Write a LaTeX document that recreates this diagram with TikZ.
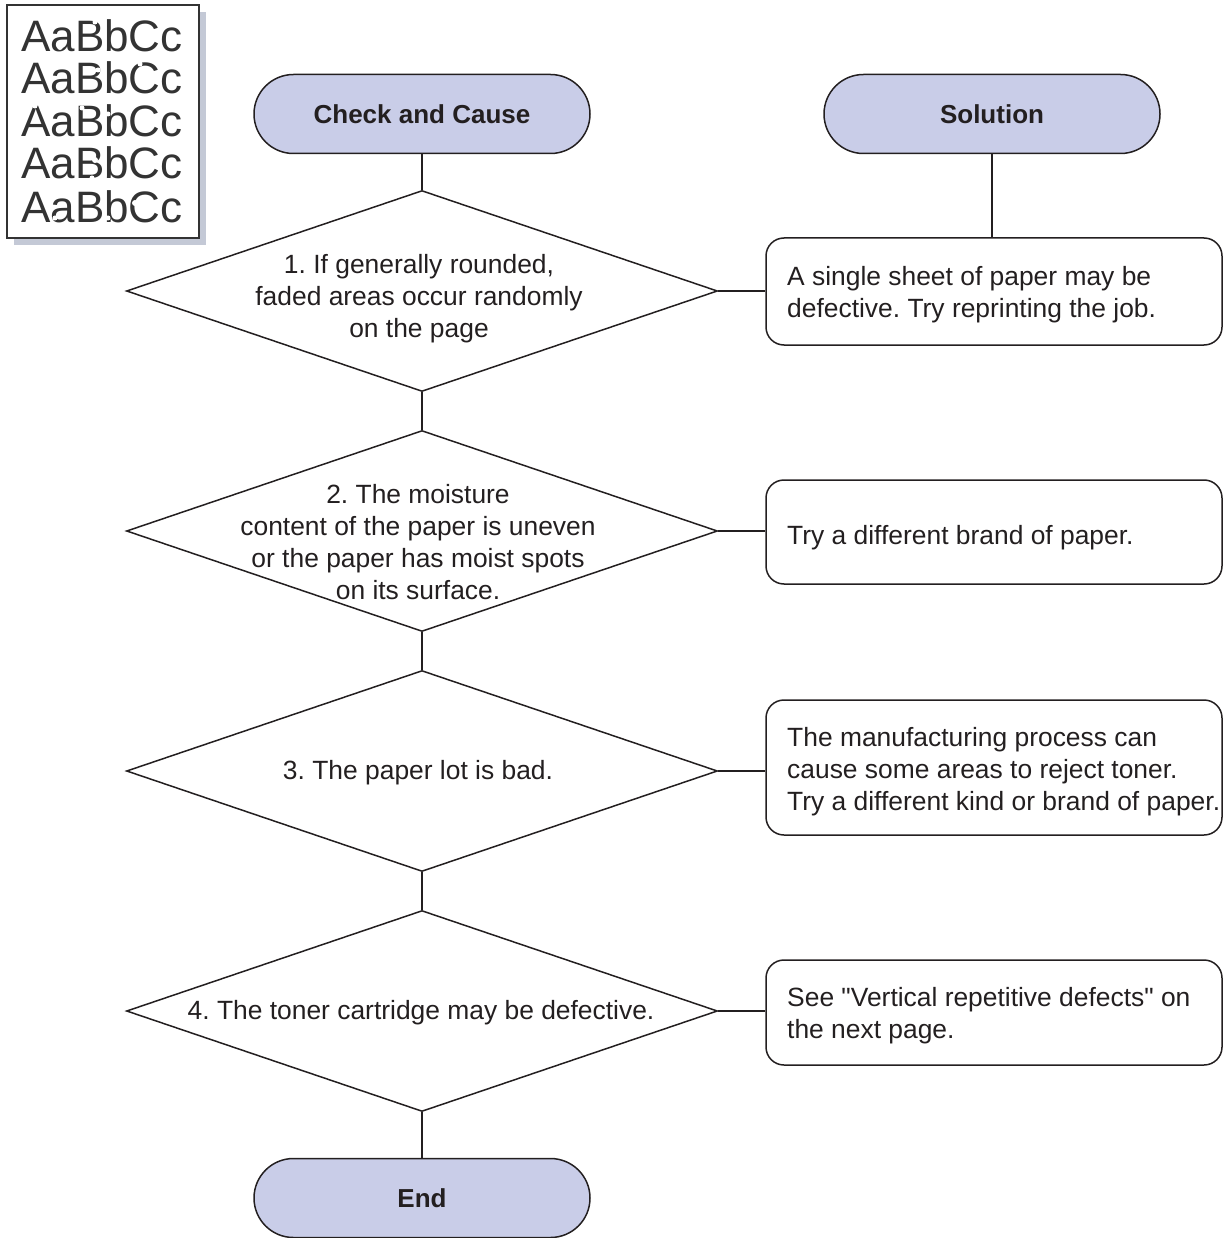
\documentclass[tikz,border=0pt]{standalone}
\usepackage{fontspec}
\setmainfont{Liberation Sans}[Ligatures=TeXOff]
\usetikzlibrary{shapes.geometric,shapes.misc}
\definecolor{termfill}{RGB}{201,205,232}
\definecolor{shadowc}{RGB}{196,201,214}
\definecolor{ink}{RGB}{35,31,32}
\definecolor{sampleink}{RGB}{51,51,51}
\tikzset{
  line/.style={draw=ink,line width=1.5pt},
  term/.style={rounded rectangle,draw=ink,line width=1.5pt,fill=termfill,minimum width=336pt,minimum height=79pt,inner sep=0pt,
    font=\fontsize{26}{30}\selectfont\bfseries,text=ink},
  dia/.style={diamond,draw=ink,line width=1.5pt,minimum width=591pt,minimum height=201pt,inner sep=0pt},
  dtext/.style={align=center,font=\fontsize{26.4}{32}\selectfont,text=ink,inner sep=0pt},
  solbox/.style={rectangle,rounded corners=18pt,draw=ink,line width=1.5pt,minimum width=456pt,inner sep=0pt},
  stext/.style={anchor=west,align=left,font=\fontsize{26.4}{32}\selectfont,text=ink,inner sep=0pt},
  sample/.style={font=\fontsize{44}{44}\selectfont,text=sampleink,inner sep=0pt},
  spot/.style={fill=white,draw=none}
}
\frenchspacing
\begin{document}
\begin{tikzpicture}[x=1pt,y=-1pt]
\useasboundingbox (0,0) rectangle (1229,1238);
% sample sheet
\fill[shadowc] (14,12) rectangle (206,245);
\draw[fill=white,draw=sampleink,line width=1.5pt] (7,5) rectangle (199,238);
\node[sample] (s1) at (102,36) {AaBbCc};
\node[sample] (s2) at (102,78) {AaBbCc};
\node[sample] (s3) at (102,121) {AaBbCc};
\node[sample] (s4) at (102,163) {AaBbCc};
\node[sample] (s5) at (102,207) {AaBbCc};
% faded spots on the sample
\fill[spot] (35,36) circle (2.5);
\fill[spot] (60,47) circle (3);
\fill[spot] (95,22) circle (2.5);
\fill[spot] (148,44) circle (3);
\fill[spot] (176,40) circle (2.5);
\fill[spot] (140,64) circle (2.5);
\fill[spot] (98,70) circle (2.5);
\fill[spot] (35,106) circle (2.5);
\fill[spot] (82,108) circle (2.5);
\fill[spot] (108,114) circle (2.5);
\fill[spot] (172,130) circle (3);
\fill[spot] (145,127) circle (2.5);
\fill[spot] (35,160) circle (2.5);
\fill[spot] (95,160) circle (3);
\fill[spot] (92,178) circle (2.5);
\fill[spot] (55,218) circle (2.5);
\fill[spot] (108,218) circle (2.5);
\fill[spot] (135,203) circle (3);
\fill[spot] (172,205) circle (3);
% terminators
\node[term] (cc) at (422,114) {Check and Cause};
\node[term] (sol) at (992,114) {Solution};
\node[term] (end) at (422,1198) {End};
% diamonds
\node[dia] (d1) at (422,291) {};
\node[dia] (d2) at (422,531) {};
\node[dia] (d3) at (422,771) {};
\node[dia] (d4) at (422,1011) {};
\node[dtext] (t1) at (419,299) {1. If generally rounded,\\faded areas occur randomly\\on the page};
\node[dtext] (t2) at (418,542) {2. The moisture\\content of the paper is uneven\\or the paper has moist spots\\on its surface.};
\node[dtext] (t3) at (418,773) {3. The paper lot is bad.};
\node[dtext] (t4) at (421,1013) {4. The toner cartridge may be defective.};
% solution boxes
\node[solbox,minimum height=107pt] (b1) at (994,291.5) {};
\node[solbox,minimum height=104pt] (b2) at (994,532) {};
\node[solbox,minimum height=135pt] (b3) at (994,767.5) {};
\node[solbox,minimum height=105pt] (b4) at (994,1012.5) {};
\node[stext] (u1) at (787,295) {A single sheet of paper may be\\defective. Try reprinting the job.};
\node[stext] (u2) at (787,538) {Try a different brand of paper.};
\node[stext] (u3) at (787,772) {The manufacturing process can\\cause some areas to reject toner.\\Try a different kind or brand of paper.};
\node[stext] (u4) at (787,1016) {See "Vertical repetitive defects" on\\the next page.};
% connectors
\draw[line] (cc.south) -- (d1.north);
\draw[line] (d1.south) -- (d2.north);
\draw[line] (d2.south) -- (d3.north);
\draw[line] (d3.south) -- (d4.north);
\draw[line] (d4.south) -- (end.north);
\draw[line] (sol.south) -- (sol.south |- b1.north);
\draw[line] (d1.east) -- (d1.east -| b1.west);
\draw[line] (d2.east) -- (d2.east -| b2.west);
\draw[line] (d3.east) -- (d3.east -| b3.west);
\draw[line] (d4.east) -- (d4.east -| b4.west);
\end{tikzpicture}
\end{document}
